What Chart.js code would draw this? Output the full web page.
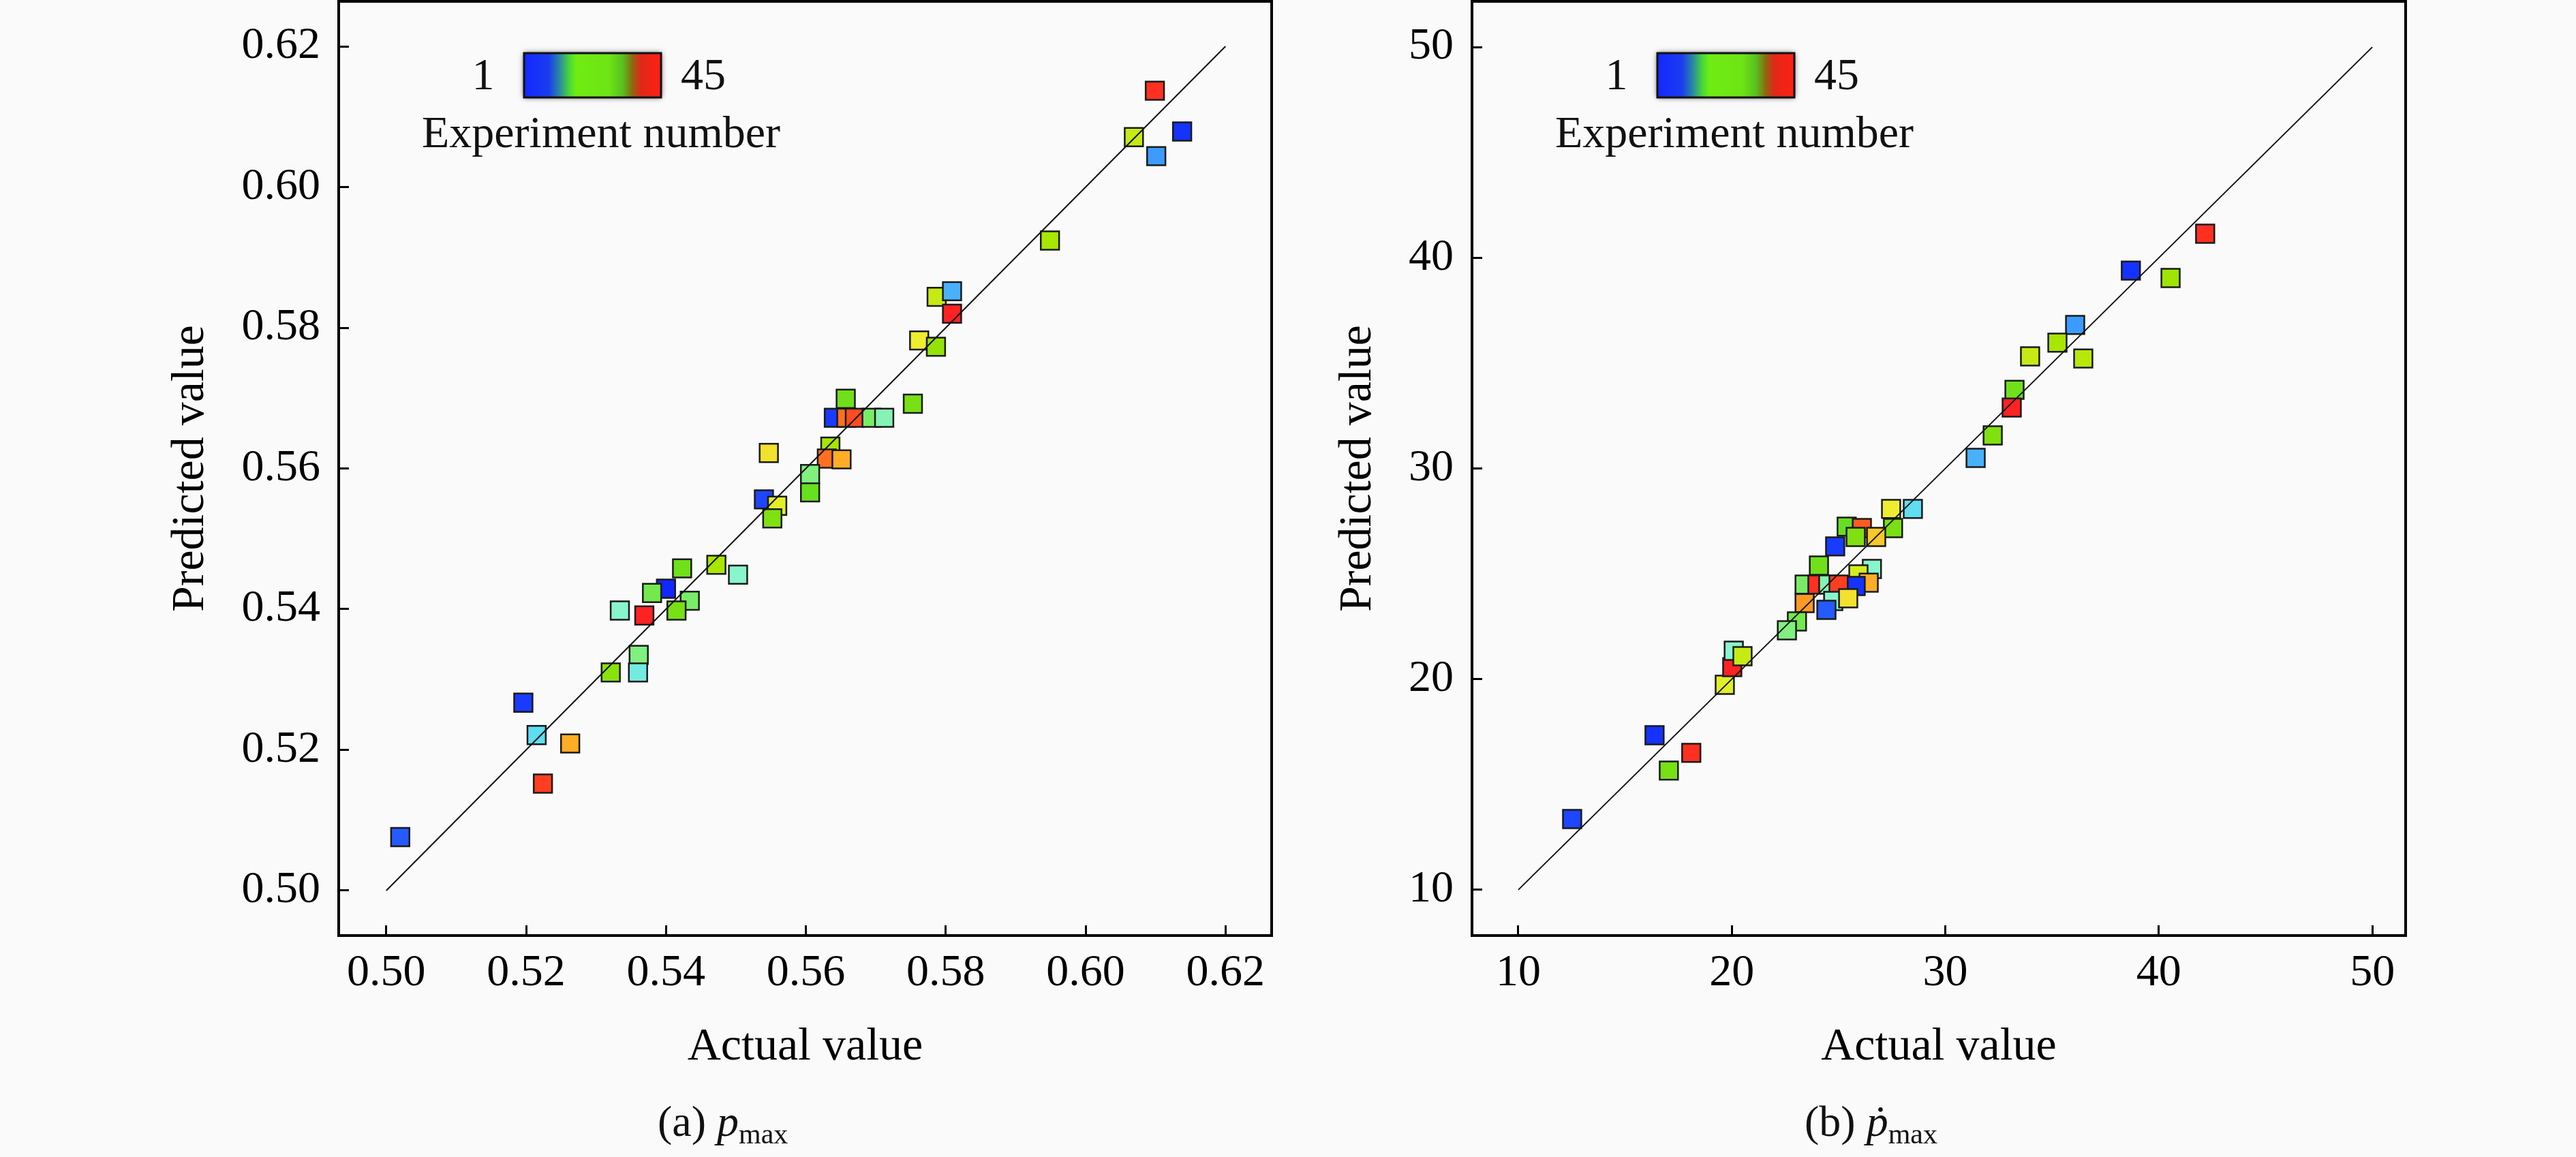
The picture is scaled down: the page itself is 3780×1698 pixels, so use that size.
<!DOCTYPE html>
<html>
<head>
<meta charset="utf-8">
<title>Predicted vs actual</title>
<script src="https://cdn.jsdelivr.net/npm/chart.js@4.4.1/dist/chart.umd.min.js"></script>
<style>
  html, body { margin: 0; padding: 0; background: #fafafa; }
  #wrap { position: relative; width: 3780px; height: 1698px; overflow: hidden; }
  .panel { position: absolute; top: 0; width: 1890px; height: 1698px; }
</style>
</head>
<body>
<div id="wrap">
  <div class="panel" style="left:0"><canvas id="chartA"></canvas></div>
  <div class="panel" style="left:1890px"><canvas id="chartB"></canvas></div>
</div>
<script>
// (a) p_max
const ticksA = [0.50, 0.52, 0.54, 0.56, 0.58, 0.60, 0.62];
const diagA = [0.50, 0.62];
const actualA = [0.6099, 0.6069, 0.6138, 0.6101, 0.5949, 0.5787, 0.5809, 0.5809, 0.5762, 0.5786,
                 0.5753, 0.5657, 0.5640, 0.5658, 0.5670, 0.5694, 0.5712, 0.5547, 0.5635, 0.5630,
                 0.5651, 0.5606, 0.5606, 0.5540, 0.5559, 0.5552, 0.5423, 0.5472, 0.5503, 0.5400,
                 0.5380, 0.5434, 0.5415, 0.5334, 0.5369, 0.5361, 0.5321, 0.5360, 0.5196, 0.5215,
                 0.5263, 0.5224, 0.5020];
const predictedA = [0.6137, 0.6071, 0.6079, 0.6044, 0.5924, 0.5844, 0.5852, 0.5820, 0.5782, 0.5773,
                    0.5692, 0.5699, 0.5672, 0.5672, 0.5672, 0.5672, 0.5672, 0.5622, 0.5631, 0.5614,
                    0.5613, 0.5592, 0.5566, 0.5556, 0.5547, 0.5529, 0.5458, 0.5463, 0.5449, 0.5429,
                    0.5423, 0.5412, 0.5398, 0.5398, 0.5391, 0.5335, 0.5310, 0.5310, 0.5267, 0.5221,
                    0.5209, 0.5152, 0.5076];
const expA = [44, 29, 2, 8, 27, 29, 9, 45, 32, 25,
              22, 21, 3, 40, 42, 17, 14, 33, 27, 40,
              37, 16, 20, 4, 31, 23, 21, 27, 13, 1,
              18, 17, 22, 13, 45, 16, 24, 12, 3, 11,
              37, 43, 5];

// (b) dp_max
const ticksB = [10, 20, 30, 40, 50];
const diagB = [10, 50];
const actualB = [42.17, 38.69, 40.55, 36.08, 35.25, 33.97, 36.46, 33.24, 33.11, 32.22,
                 31.42, 27.46, 28.48, 27.55, 25.38, 26.09, 25.80, 26.76, 24.84, 24.08,
                 26.56, 25.93, 26.41, 25.80, 23.41, 24.01, 24.52, 25.00, 24.75, 25.45,
                 23.41, 24.43, 23.05, 22.58, 12.52, 16.38, 17.05, 18.10, 19.67, 20.02,
                 20.09, 20.50];
const predictedB = [41.14, 39.39, 39.04, 36.81, 35.97, 35.32, 35.22, 33.73, 32.89, 31.57,
                    30.50, 28.08, 28.08, 27.17, 27.24, 27.17, 26.75, 26.75, 26.30, 25.39,
                    25.23, 24.97, 24.58, 24.42, 24.49, 24.49, 24.49, 24.49, 23.71, 23.84,
                    23.61, 23.29, 22.74, 22.32, 13.36, 17.34, 15.66, 16.50, 19.73, 20.57,
                    21.35, 21.09];
const expB = [44, 2, 26, 8, 27, 29, 28, 21, 45, 23,
              9, 32, 11, 22, 20, 41, 23, 35, 3, 21,
              13, 30, 37, 2, 17, 44, 14, 43, 13, 33,
              38, 5, 18, 16, 4, 2, 22, 44, 31, 45,
              13, 29];

const expRange = [1, 45];

const serif = "'Liberation Serif', 'Times New Roman', 'DejaVu Serif', serif";
Chart.defaults.font.family = serif;
Chart.defaults.color = '#000';

// marker colour map, experiment number -> colour
const markerStops = [
  [0.00, [16, 40, 255]], [0.07, [30, 70, 255]], [0.16, [61, 156, 255]],
  [0.23, [96, 224, 240]], [0.27, [136, 245, 208]], [0.34, [128, 240, 128]],
  [0.43, [102, 224, 32]], [0.50, [128, 224, 16]], [0.59, [168, 230, 0]],
  [0.70, [238, 240, 48]], [0.82, [255, 172, 37]], [0.91, [255, 90, 32]],
  [1.00, [255, 34, 34]]
];
function expColor(n) {
  const t = (n - expRange[0]) / (expRange[1] - expRange[0]);
  for (let i = 1; i < markerStops.length; i++) {
    const [t1, c1] = markerStops[i];
    const [t0, c0] = markerStops[i - 1];
    if (t <= t1) {
      const f = (t - t0) / (t1 - t0);
      const c = c0.map((v, k) => Math.round(v + (c1[k] - v) * f));
      return 'rgb(' + c.join(',') + ')';
    }
  }
  return 'rgb(255,34,34)';
}

// colour key drawn in the top-left corner + figure caption
const keyPlugin = {
  id: 'expKey',
  afterDraw(chart, args, opts) {
    const { ctx, chartArea } = chart;
    const bx = chartArea.left + 272, by = chartArea.top + 76, bw = 201, bh = 65;
    ctx.save();
    const g = ctx.createLinearGradient(bx, 0, bx + bw, 0);
    [[0, '#1428ff'], [0.18, '#1a3cf0'], [0.26, '#2a8aa0'], [0.33, '#48d838'],
     [0.38, '#70ec12'], [0.62, '#6ee414'], [0.72, '#58c020'], [0.79, '#8a6a10'],
     [0.85, '#e02818'], [1, '#ff2014']].forEach(s => g.addColorStop(s[0], s[1]));
    ctx.shadowColor = 'rgba(0,0,0,0.7)';
    ctx.shadowBlur = 8;
    ctx.fillStyle = g;
    ctx.fillRect(bx, by, bw, bh);
    ctx.shadowBlur = 0;
    ctx.lineWidth = 3;
    ctx.strokeStyle = '#111';
    ctx.strokeRect(bx, by, bw, bh);

    ctx.fillStyle = '#111';
    ctx.font = '66px ' + serif;
    ctx.textBaseline = 'middle';
    ctx.textAlign = 'center';
    ctx.fillText(String(expRange[0]), bx - 60, by + bh / 2 + 3);
    ctx.fillText(String(expRange[1]), bx + bw + 62, by + bh / 2 + 3);
    ctx.fillText('Experiment number', bx + 113, by + 121);

    // caption: "(a) p_max"
    const big = 64, small = 42, base = 1667;
    const parts = [
      { t: opts.label + ' ', f: big + 'px ' + serif, dy: 0 },
      { t: opts.symbol, f: 'italic ' + big + 'px ' + serif, dy: 0 },
      { t: 'max', f: small + 'px ' + serif, dy: 11 }
    ];
    ctx.textAlign = 'left';
    ctx.textBaseline = 'alphabetic';
    let x = opts.captionX;
    parts.forEach(p => {
      ctx.font = p.f;
      ctx.fillText(p.t, x, base + p.dy);
      x += ctx.measureText(p.t).width;
    });
    ctx.restore();
  }
};

// full box around the plotting area
const framePlugin = {
  id: 'frame',
  afterDatasetsDraw(chart) {
    const { ctx, chartArea: a } = chart;
    ctx.save();
    ctx.lineWidth = 4;
    ctx.strokeStyle = '#000';
    ctx.strokeRect(a.left, a.top, a.right - a.left, a.bottom - a.top);
    ctx.restore();
  }
};

function makeChart(id, s) {
  const tickFont = { size: 66, lineHeight: 1.2 };
  const titleFont = { size: 68, lineHeight: 1.2 };
  const grid = { drawOnChartArea: false, drawTicks: true, tickLength: -15, lineWidth: 3, color: '#000' };
  return new Chart(document.getElementById(id), {
    type: 'scatter',
    data: {
      datasets: [
        {
          data: s.diag.map(v => ({ x: v, y: v })),
          showLine: true,
          borderColor: '#111',
          borderWidth: 2,
          pointRadius: 0,
          order: 0
        },
        {
          data: s.actual.map((v, i) => ({ x: v, y: s.predicted[i] })),
          backgroundColor: s.exp.map(expColor),
          borderColor: '#1a1a1a',
          borderWidth: 2.5,
          pointStyle: 'rect',
          pointRadius: 19,
          pointHoverRadius: 19,
          order: 1
        }
      ]
    },
    options: {
      responsive: true,
      maintainAspectRatio: false,
      animation: false,
      devicePixelRatio: 1,
      layout: { autoPadding: false, padding: s.padding },
      plugins: {
        legend: { display: false },
        tooltip: { enabled: false },
        expKey: { label: s.label, symbol: s.symbol, captionX: s.captionX }
      },
      scales: {
        x: {
          type: 'linear',
          min: s.xRange[0],
          max: s.xRange[1],
          afterBuildTicks: sc => { sc.ticks = s.ticks.map(v => ({ value: v })); },
          afterFit: sc => { sc.height = 205; sc.paddingLeft = 0; sc.paddingRight = 0; },
          ticks: { callback: s.fmt, font: tickFont, color: '#000', padding: 31, maxRotation: 0, autoSkip: false },
          grid: grid,
          border: { display: false },
          title: { display: true, text: 'Actual value', font: titleFont, color: '#000', padding: 0 }
        },
        y: {
          type: 'linear',
          min: s.yRange[0],
          max: s.yRange[1],
          afterBuildTicks: sc => { sc.ticks = s.ticks.map(v => ({ value: v })); },
          afterFit: sc => { sc.width = s.yWidth; sc.paddingTop = 0; sc.paddingBottom = 0; },
          ticks: { callback: s.fmt, font: tickFont, color: '#000', padding: 42, autoSkip: false },
          grid: grid,
          border: { display: false },
          title: { display: true, text: 'Predicted value', font: titleFont, color: '#000', padding: 0 }
        }
      }
    },
    plugins: [framePlugin, keyPlugin]
  });
}

makeChart('chartA', {
  diag: diagA, actual: actualA, predicted: predictedA, exp: expA, ticks: ticksA,
  xRange: [0.4932, 0.6266], yRange: [0.4936, 0.6264],
  fmt: v => v.toFixed(2),
  padding: { left: 239, right: 24, top: 2, bottom: 120 },
  yWidth: 258,
  label: '(a)', symbol: 'p', captionX: 965
});

makeChart('chartB', {
  diag: diagB, actual: actualB, predicted: predictedB, exp: expB, ticks: ticksB,
  xRange: [7.83, 51.56], yRange: [7.83, 52.17],
  fmt: v => String(v),
  padding: { left: 62, right: 250, top: 2, bottom: 120 },
  yWidth: 208,
  label: '(b)', symbol: '\u1E57', captionX: 758
});
</script>
</body>
</html>
